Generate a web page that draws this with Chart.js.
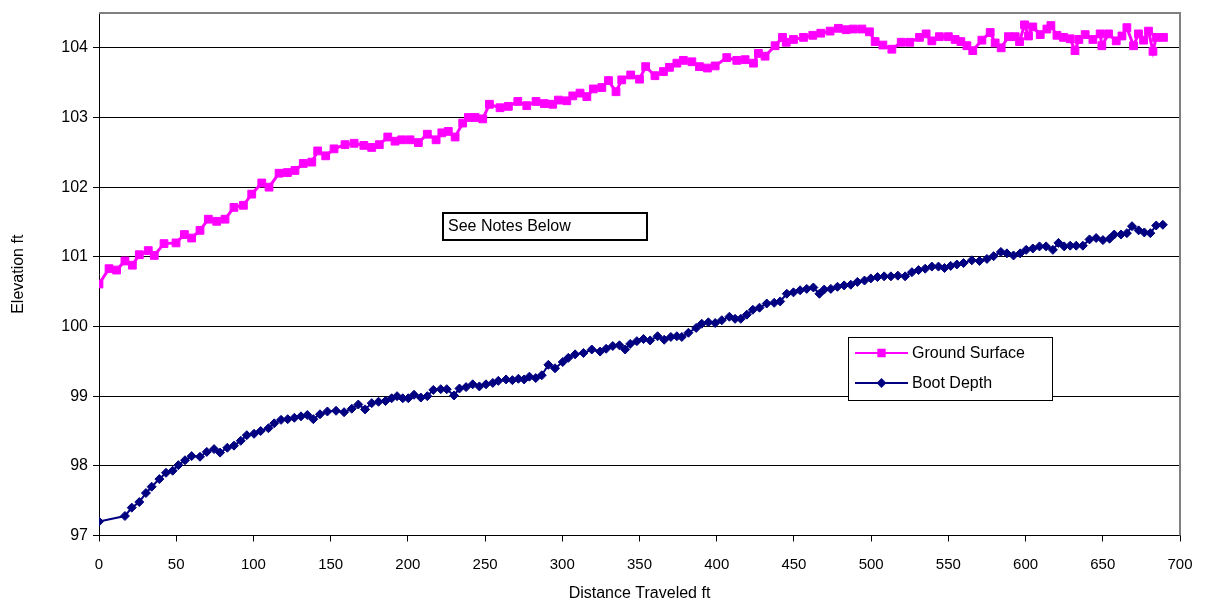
<!DOCTYPE html>
<html>
<head>
<meta charset="utf-8">
<script src="https://cdn.jsdelivr.net/npm/chart.js@4.4.1/dist/chart.umd.min.js"></script>
<style>
  html, body { margin: 0; padding: 0; background: #fff; }
  #wrap { width: 1205px; height: 603px; }
</style>
</head>
<body>
<div id="wrap"><canvas id="c" width="1205" height="603"></canvas></div>
<script>
// ---- data ----
const xTicks = [0,50,100,150,200,250,300,350,400,450,500,550,600,650,700];
const yTicks = [97,98,99,100,101,102,103,104];

const groundX = [0,6.5,11.4,16.8,21.6,26.1,31.9,35.8,42.1,49.9,55.3,60,65.4,70.8,76.2,81.6,87.4,93.5,98.9,105.4,110.1,116.6,122,126.9,132.3,137.8,141.6,146.8,152.2,159.3,165.2,171.5,176.6,181.5,187,191.7,196,201.4,206.8,212.6,218.3,222,226.2,230.6,235.5,239.2,243.5,248.5,252.8,259.7,265.1,271.2,277,283,288.4,293.8,297.5,302.9,306.8,311.5,315.9,320.1,325.6,329.9,334.8,338.5,344.3,350,354,360,365.5,369.4,374.2,378.4,383.9,388.8,394,399,406.5,413,418.4,423.8,427,431.3,437.8,442.6,445,449.7,456.2,462.2,467.4,473.4,478.8,483.8,488.5,494,498.9,502.6,507.6,513.4,519.5,525,531.3,535.6,539.3,544.2,550,554.4,558.1,562,565.8,571.7,577.1,580.3,584.2,588.9,593.3,596.1,599.3,601.9,604.7,609.5,613.8,616.4,620.3,624.6,628.9,632,634.5,638.6,643.6,648.3,649.4,653.7,658.7,662.4,665.6,669.9,673.1,676.4,679.6,682.5,684.6,689.3];
const groundY = [100.61,100.83,100.81,100.94,100.88,101.03,101.09,101.02,101.19,101.2,101.32,101.27,101.38,101.54,101.51,101.54,101.71,101.74,101.9,102.06,102.0,102.2,102.21,102.24,102.34,102.36,102.52,102.45,102.55,102.61,102.63,102.6,102.57,102.61,102.72,102.66,102.68,102.68,102.64,102.76,102.68,102.78,102.8,102.72,102.92,103.0,103.0,102.98,103.19,103.14,103.16,103.23,103.17,103.23,103.2,103.19,103.25,103.24,103.31,103.35,103.3,103.41,103.43,103.53,103.37,103.54,103.61,103.55,103.73,103.6,103.66,103.72,103.78,103.82,103.8,103.73,103.71,103.74,103.86,103.82,103.83,103.78,103.92,103.88,104.03,104.15,104.08,104.12,104.15,104.18,104.21,104.24,104.28,104.26,104.27,104.27,104.23,104.09,104.04,103.98,104.08,104.08,104.15,104.2,104.1,104.16,104.16,104.12,104.09,104.03,103.96,104.11,104.22,104.07,104.0,104.16,104.16,104.09,104.33,104.17,104.3,104.19,104.27,104.32,104.18,104.15,104.13,103.96,104.12,104.19,104.12,104.2,104.03,104.2,104.1,104.17,104.29,104.03,104.2,104.11,104.24,103.95,104.15,104.15];

const bootX = [0,16.8,21.2,26.1,30.4,34.1,39.1,43.4,47.7,51.4,55.7,60,65.4,69.8,74.5,78.4,83.1,87.4,91.8,95.7,100.4,104.7,109.7,113.5,117.9,122.2,126.5,130.8,134.9,138.8,143.1,147.9,153.5,158.7,163.7,167.9,172.3,176.6,181,185.5,189.5,193,196.7,200.3,204,208.4,212.6,216.5,221.3,225.2,229.9,233.4,237.7,242,246.3,250.6,255,258.6,263.6,267.7,271.6,275.3,278.7,282.8,286.7,291,295.3,300.3,303.9,308.3,313.7,319.1,324.5,328.4,332.7,337,340.7,344,348.3,352.6,356.9,361.7,366,370.3,374.2,377.4,381.7,386.7,390.3,394.6,399,403.3,408.2,411.9,415.6,419.5,423.4,427.7,432.4,437.2,441.1,445.4,449.7,454,458.3,462.6,466.5,469.6,473.9,478.2,482.5,486.8,491.1,495.7,499.8,504.1,508.4,512.8,517.3,522,526.4,530.7,535,539.3,543.6,547.5,551.5,555.5,559.8,565.2,570.2,575,579.3,584,587.9,592.2,596.5,600.4,604.7,609,613.3,617.7,621.3,625,628.9,632.8,637.1,641.4,645.7,650.1,654.4,657.4,661.8,665.6,668.9,673.2,676.9,680.8,684.6,688.9];
const bootY = [97.2,97.28,97.4,97.48,97.61,97.7,97.81,97.9,97.93,98.01,98.08,98.14,98.13,98.2,98.24,98.19,98.26,98.29,98.36,98.44,98.46,98.5,98.54,98.61,98.66,98.67,98.69,98.71,98.73,98.67,98.74,98.78,98.79,98.77,98.82,98.88,98.81,98.9,98.92,98.93,98.97,99.0,98.97,98.97,99.02,98.98,99.0,99.09,99.1,99.1,99.01,99.11,99.13,99.17,99.14,99.17,99.19,99.22,99.24,99.23,99.25,99.24,99.28,99.26,99.3,99.45,99.4,99.49,99.55,99.6,99.62,99.67,99.64,99.68,99.72,99.73,99.67,99.75,99.79,99.82,99.8,99.86,99.81,99.85,99.86,99.85,99.91,99.98,100.04,100.06,100.05,100.09,100.14,100.11,100.11,100.17,100.24,100.27,100.33,100.34,100.36,100.47,100.49,100.52,100.54,100.56,100.47,100.53,100.54,100.57,100.59,100.6,100.64,100.66,100.69,100.71,100.72,100.72,100.73,100.72,100.78,100.81,100.83,100.86,100.86,100.84,100.87,100.89,100.91,100.95,100.94,100.97,101.01,101.07,101.05,101.02,101.05,101.1,101.12,101.15,101.15,101.1,101.2,101.15,101.16,101.16,101.16,101.25,101.27,101.24,101.26,101.32,101.32,101.34,101.44,101.38,101.35,101.34,101.45,101.46];

const seriesNames = ['Ground Surface', 'Boot Depth'];
const noteText = 'See Notes Below';
const xTitle = 'Distance Traveled ft';
const yTitle = 'Elevation ft';

const PINK = '#FF00FF';
const NAVY = '#000080';
const FONT = '"Liberation Sans", Arial, sans-serif';

const toPts = (xs, ys) => xs.map((x, i) => ({ x: x, y: ys[i] }));

const overlay = {
  id: 'overlay',
  afterDraw(chart) {
    const ctx = chart.ctx;
    const a = chart.chartArea;
    ctx.save();
    // gray plot border (top and right)
    ctx.strokeStyle = '#808080';
    ctx.lineWidth = 2;
    ctx.beginPath();
    ctx.moveTo(a.left, a.top);
    ctx.lineTo(a.right, a.top);
    ctx.lineTo(a.right, a.bottom);
    ctx.stroke();

    // note box
    ctx.fillStyle = '#fff';
    ctx.fillRect(443, 213, 204, 27);
    ctx.strokeStyle = '#000';
    ctx.lineWidth = 2;
    ctx.strokeRect(443, 213, 204, 27);
    ctx.fillStyle = '#000';
    ctx.font = '16px ' + FONT;
    ctx.textBaseline = 'middle';
    ctx.textAlign = 'left';
    ctx.fillText(noteText, 448, 226.5);

    // legend box
    ctx.fillStyle = '#fff';
    ctx.fillRect(848.5, 337.5, 204, 63);
    ctx.strokeStyle = '#000';
    ctx.lineWidth = 1;
    ctx.strokeRect(848.5, 337.5, 204, 63);
    const rows = [
      { y: 353, color: PINK, style: 'rect', r: 4.5 },
      { y: 383, color: NAVY, style: 'rectRot', r: 3.5 }
    ];
    rows.forEach((row, i) => {
      ctx.strokeStyle = row.color;
      ctx.lineWidth = 2;
      ctx.beginPath();
      ctx.moveTo(855, row.y);
      ctx.lineTo(908, row.y);
      ctx.stroke();
      ctx.fillStyle = row.color;
      Chart.helpers.drawPoint(ctx, { pointStyle: row.style, radius: row.r, borderWidth: 1, rotation: 0 }, 881.5, row.y);
      ctx.fill();
      ctx.fillStyle = '#000';
      ctx.font = '16px ' + FONT;
      ctx.textBaseline = 'middle';
      ctx.fillText(seriesNames[i], 912, row.y + 0.5);
    });
    ctx.restore();
  }
};

new Chart(document.getElementById('c'), {
  type: 'line',
  data: {
    datasets: [
      {
        label: seriesNames[0],
        data: toPts(groundX, groundY),
        borderColor: PINK,
        backgroundColor: PINK,
        borderWidth: 3,
        pointStyle: 'rect',
        pointRadius: 5.5,
        pointBorderWidth: 1,
        pointBorderColor: PINK,
        pointBackgroundColor: PINK,
        tension: 0,
        fill: false
      },
      {
        label: seriesNames[1],
        data: toPts(bootX, bootY),
        borderColor: NAVY,
        backgroundColor: NAVY,
        borderWidth: 2,
        pointStyle: 'rectRot',
        pointRadius: 4.5,
        pointBorderWidth: 1,
        pointBorderColor: NAVY,
        pointBackgroundColor: NAVY,
        tension: 0,
        fill: false
      }
    ]
  },
  options: {
    responsive: false,
    animation: false,
    devicePixelRatio: 1,
    layout: { padding: { top: 13, right: 25, left: 0, bottom: 0 } },
    plugins: {
      legend: { display: false },
      tooltip: { enabled: false },
      title: { display: false }
    },
    scales: {
      x: {
        type: 'linear',
        min: 0,
        max: 700,
        afterFit(s) { s.height = 67.5; s.paddingLeft = 0; s.paddingRight = 0; },
        afterBuildTicks(s) { s.ticks = xTicks.map(v => ({ value: v })); },
        ticks: { color: '#000', font: { family: FONT, size: 15 }, padding: 14, maxRotation: 0, autoSkip: false },
        grid: { drawOnChartArea: false, drawTicks: true, tickLength: 6, color: '#000', lineWidth: 1 },
        border: { color: '#000', width: 1 },
        title: { display: true, text: xTitle, color: '#000', font: { family: FONT, size: 16 }, padding: { top: 0, bottom: 0 } }
      },
      y: {
        type: 'linear',
        min: 97,
        max: 104.5,
        afterFit(s) { s.width = 99; s.paddingTop = 0; s.paddingBottom = 0; },
        afterBuildTicks(s) { s.ticks = yTicks.map(v => ({ value: v })); },
        ticks: { color: '#000', font: { family: FONT, size: 16 }, padding: 5, autoSkip: false },
        grid: { drawOnChartArea: true, drawTicks: true, tickLength: 6, color: '#000', lineWidth: 1 },
        border: { color: '#000', width: 1 },
        title: { display: true, text: yTitle, color: '#000', font: { family: FONT, size: 16 }, padding: { top: 9, bottom: 0 } }
      }
    }
  },
  plugins: [overlay]
});
</script>
</body>
</html>
